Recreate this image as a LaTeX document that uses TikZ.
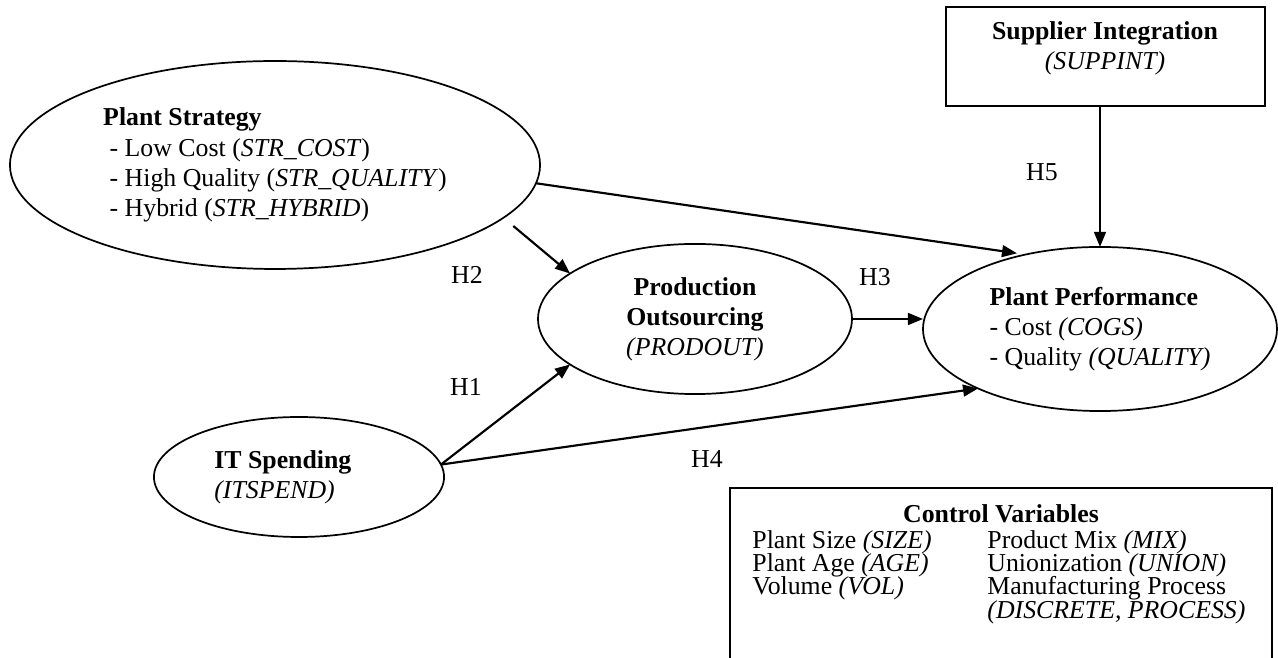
\documentclass[tikz,border=0pt]{standalone}
\usepackage{fontspec}
\setmainfont{Liberation Serif}
\usepackage{tikz}
\usetikzlibrary{arrows.meta,shapes,positioning,calc}

\begin{document}
\begin{tikzpicture}[x=0.465pt, y=-0.465pt,
		oval/.style={ellipse, draw, line width=0.8pt, inner sep=0pt, outer sep=0pt, align=left, font=\fontsize{12}{14}\selectfont},
		hyp/.style={-{Triangle[length=7pt,width=5.5pt]}, line width=1pt},
		hlabel/.style={font=\fontsize{12}{14}\selectfont},
		ctrlcol/.style={anchor=north west, align=left, inner sep=0pt, font=\fontsize{12}{10.8}\selectfont\setlength{\lineskiplimit}{-20pt}}]
		\useasboundingbox (0,0) rectangle (1278,658);
		
		\node[oval, minimum width=246.5pt, minimum height=96.7pt] (ps) at (275,165) {\textbf{Plant Strategy}\\ \ - Low Cost (\textit{STR\_COST})\\ \ - High Quality (\textit{STR\_QUALITY})\\ \ - Hybrid (\textit{STR\_HYBRID})};
		\node[oval, align=center, minimum width=146pt, minimum height=69.8pt] (po) at (695,319) {\textbf{Production}\\\textbf{Outsourcing}\\\textit{(PRODOUT)}};
		\node[oval, minimum width=164.6pt, minimum height=76.3pt] (pp) at (1100,329) {\textbf{Plant Performance}\\- Cost \textit{(COGS)}\\- Quality \textit{(QUALITY)}};
		\node[oval, minimum width=134.9pt, minimum height=55.8pt] (it) at (299,477) {\textbf{IT Spending}\hspace*{15pt}\\\textit{(ITSPEND)}};
		
		\node[rectangle, draw, line width=0.8pt, minimum width=148.3pt, minimum height=46pt, inner sep=0pt, outer sep=0pt] (supp) at (1105.5,56.5) {};
		\node[align=center, font=\fontsize{12}{14}\selectfont] (supptext) at (1105,48) {\textbf{Supplier Integration}\\\textit{(SUPPINT)}};
		
		% control variables, box open at the bottom
		\draw[line width=0.8pt] (730,658) -- (730,488) -- (1272,488) -- (1272,658);
		\node[anchor=base, inner sep=0pt, font=\fontsize{12}{14}\selectfont] (ctrl) at (1001,523) {\textbf{Control Variables}};
		\node[ctrlcol] (ctrlleft) at (752,530) {Plant Size \textit{(SIZE)}\\Plant Age \textit{(AGE)}\\Volume \textit{(VOL)}};
		\node[ctrlcol] (ctrlright) at (987,530) {Product Mix \textit{(MIX)}\\Unionization \textit{(UNION)}\\Manufacturing Process\\\textit{(DISCRETE, PROCESS)}};
		
		\draw[hyp, shorten <=6pt] (ps.-13) -- (po.160);
		\draw[hyp, shorten >=4pt] (ps.-4) -- (pp.135);
		\draw[hyp] (po.east) -- (po.east -| pp.west);
		\draw[hyp] (it.5) -- (po.200);
		\draw[hyp] (it.5) -- (pp.206);
		\draw[hyp] (supp.south -| pp.north) -- (pp.north);
		
		\node[hlabel] (h1) at (466,387) {H1};
		\node[hlabel] (h2) at (467,275) {H2};
		\node[hlabel] (h3) at (875,277) {H3};
		\node[hlabel] (h4) at (707,459) {H4};
		\node[hlabel] (h5) at (1042,172) {H5};
	\end{tikzpicture}
\end{document}
